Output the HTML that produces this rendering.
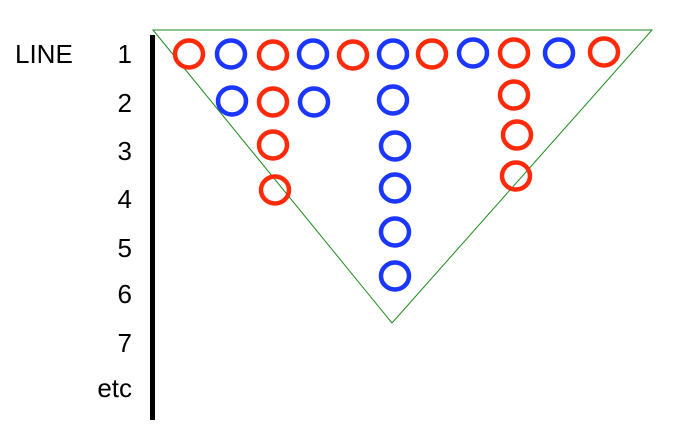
<!DOCTYPE html>
<html><head><style>html,body{margin:0;padding:0;background:#fff;}</style></head>
<body>
<svg width="677" height="448" xmlns="http://www.w3.org/2000/svg" style="display:block">
<g font-family="Liberation Sans, sans-serif" font-size="26" fill="#000">
<text x="15" y="63">LINE</text>
<g text-anchor="end">
<text x="132" y="63">1</text>
<text x="132" y="112">2</text>
<text x="132" y="160">3</text>
<text x="132" y="208">4</text>
<text x="132" y="257">5</text>
<text x="132" y="303">6</text>
<text x="132" y="352">7</text>
<text x="132" y="397">etc</text>
</g>
</g>
<rect x="150" y="35" width="5" height="385" fill="#000"/>
<polygon points="153,30 652,30 392,323" fill="none" stroke="#1a8a1a" stroke-width="1"/>
<g fill="none" stroke-width="4.5">
<g stroke="#ff2a0a">
<ellipse cx="189" cy="54" rx="14" ry="13.5"/>
<ellipse cx="273" cy="55" rx="14" ry="13.5"/>
<ellipse cx="353" cy="55" rx="14" ry="13.5"/>
<ellipse cx="432" cy="54" rx="14" ry="13.5"/>
<ellipse cx="514" cy="53" rx="14" ry="13.5"/>
<ellipse cx="604" cy="52" rx="14" ry="13.5"/>
<ellipse cx="273" cy="102" rx="14" ry="13.5"/>
<ellipse cx="514" cy="95" rx="14" ry="13.5"/>
<ellipse cx="273" cy="145" rx="14" ry="13.5"/>
<ellipse cx="517" cy="135" rx="14" ry="13.5"/>
<ellipse cx="275" cy="190" rx="14" ry="13.5"/>
<ellipse cx="516" cy="176" rx="14" ry="13.5"/>
</g>
<g stroke="#1a36ff">
<ellipse cx="231" cy="54" rx="14" ry="13.5"/>
<ellipse cx="313" cy="54" rx="14" ry="13.5"/>
<ellipse cx="393" cy="54" rx="14" ry="13.5"/>
<ellipse cx="473" cy="53" rx="14" ry="13.5"/>
<ellipse cx="559" cy="53" rx="14" ry="13.5"/>
<ellipse cx="232" cy="101" rx="14" ry="13.5"/>
<ellipse cx="314" cy="102" rx="14" ry="13.5"/>
<ellipse cx="393" cy="100" rx="14" ry="13.5"/>
<ellipse cx="395" cy="146" rx="14" ry="13.5"/>
<ellipse cx="395" cy="188" rx="14" ry="13.5"/>
<ellipse cx="395" cy="232" rx="14" ry="13.5"/>
<ellipse cx="395" cy="276" rx="14" ry="13.5"/>
</g>
</g>
</svg>
</body></html>
